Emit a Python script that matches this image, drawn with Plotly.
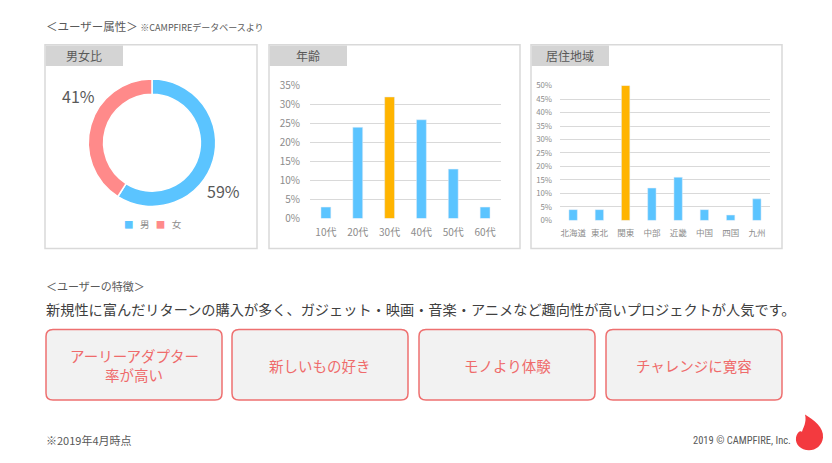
import plotly.graph_objects as go

W, H = 832, 463

# ---- data ----
gender_labels = ["男", "女"]
gender_values = [59, 41]

age_labels = ["10代", "20代", "30代", "40代", "50代", "60代"]
age_values = [3, 24, 32, 26, 13, 3]
age_ticks = [0, 5, 10, 15, 20, 25, 30, 35]

region_labels = ["北海道", "東北", "関東", "中部", "近畿", "中国", "四国", "九州"]
region_values = [4, 4, 50, 12, 16, 4, 2, 8]
region_ticks = [0, 5, 10, 15, 20, 25, 30, 35, 40, 45, 50]

features = [["アーリーアダプター", "率が高い"], ["新しいもの好き"], ["モノより体験"], ["チャレンジに寛容"]]

# ---- style ----
FONT = "Noto Sans CJK JP"
BLUE = "#5BC4FF"
PINK = "#FF8A8A"
ORANGE = "#FFB400"
GRID = "#D9D9D9"
TXT = "#595959"
TICK = "#8C8C8C"
RED_TXT = "#EF6B6B"
RED_LINE = "#EE7070"


def px(x):
    return x / W


def py(y):
    return 1 - y / H


def rrect_path(x0, y0, x1, y1, r):
    pts = [
        f"M {px(x0 + r)} {py(y0)}",
        f"L {px(x1 - r)} {py(y0)}",
        f"Q {px(x1)} {py(y0)} {px(x1)} {py(y0 + r)}",
        f"L {px(x1)} {py(y1 - r)}",
        f"Q {px(x1)} {py(y1)} {px(x1 - r)} {py(y1)}",
        f"L {px(x0 + r)} {py(y1)}",
        f"Q {px(x0)} {py(y1)} {px(x0)} {py(y1 - r)}",
        f"L {px(x0)} {py(y0 + r)}",
        f"Q {px(x0)} {py(y0)} {px(x0 + r)} {py(y0)}",
        "Z",
    ]
    return " ".join(pts)


def note(text, x, y, size, color=TXT, xanchor="center", family=FONT):
    return dict(text=text, x=px(x), y=py(y), xref="paper", yref="paper", showarrow=False,
                xanchor=xanchor, yanchor="middle", font=dict(family=family, size=size, color=color))


fig = go.Figure()

# donut
cx, cy, R = 152, 138.5, 66
fig.add_trace(go.Pie(
    labels=gender_labels, values=gender_values, hole=0.76, sort=False,
    direction="clockwise", rotation=0, textinfo="none", showlegend=False,
    marker=dict(colors=[BLUE, PINK], line=dict(color="white", width=1.5)),
    domain=dict(x=[px(cx - R), px(cx + R)], y=[py(cy + R), py(cy - R)]),
))

# age bars
fig.add_trace(go.Bar(
    x=age_labels, y=age_values, xaxis="x", yaxis="y", width=0.31,
    marker=dict(color=[ORANGE if v == max(age_values) else BLUE for v in age_values]),
    showlegend=False,
))

# region bars
fig.add_trace(go.Bar(
    x=region_labels, y=region_values, xaxis="x2", yaxis="y2", width=0.32,
    marker=dict(color=[ORANGE if v == max(region_values) else BLUE for v in region_values]),
    showlegend=False,
))

shapes = []
annotations = []

# panels
panels = [(45, 37, 257, 248, "男女比"), (269, 37, 520, 248, "年齢"), (531, 37, 782, 248, "居住地域")]
for x0, y0, x1, y1, title in panels:
    shapes.append(dict(type="rect", xref="paper", yref="paper", x0=px(x0), x1=px(x1), y0=py(y1), y1=py(y0),
                       line=dict(color=GRID, width=1.5), fillcolor="rgba(0,0,0,0)", layer="below"))
    shapes.append(dict(type="rect", xref="paper", yref="paper", x0=px(x0 + 0.7), x1=px(x0 + 78), y0=py(59), y1=py(y0 + 0.7),
                       line=dict(width=0), fillcolor="#D4D4D4", layer="below"))
    annotations.append(note(title, x0 + 39, 48.5, 12))

# donut labels
annotations.append(note(f"{gender_values[1]}%", 78, 90, 16))
annotations.append(note(f"{gender_values[0]}%", 223, 188, 16))
annotations.append(note(
    f"<span style='color:{BLUE}'>■</span>   {gender_labels[0]}   <span style='color:{PINK}'>■</span>   {gender_labels[1]}",
    153, 223, 9.5, TICK))

# feature boxes
boxes = [(46, 222), (232, 408), (419, 595), (606, 782)]
LINE_H = 20
for (x0, x1), lines in zip(boxes, features):
    shapes.append(dict(type="path", xref="paper", yref="paper", path=rrect_path(x0, 332, x1, 405, 7),
                       line=dict(color=RED_LINE, width=1.5), fillcolor="#F2F2F2"))
    start = 369 - (len(lines) - 1) * LINE_H / 2
    for i, ln in enumerate(lines):
        annotations.append(note(ln, (x0 + x1) / 2, start + i * LINE_H, 14.5, RED_TXT))

# texts
annotations += [
    note("＜ユーザー属性＞ <span style='font-size:9px'>※CAMPFIREデータベースより</span>", 44, 18, 11.5, xanchor="left"),
    note("＜ユーザーの特徴＞", 44, 287, 11, xanchor="left"),
    note("新規性に富んだリターンの購入が多く、ガジェット・映画・音楽・アニメなど趣向性が高いプロジェクトが人気です。",
         44, 311, 14.2, "#404040", xanchor="left"),
    note("※2019年4月時点", 44, 446, 11, xanchor="left"),
    note("2019 © CAMPFIRE, Inc.", 793, 447, 10.5, xanchor="right",
         family="Roboto Condensed, Liberation Sans Narrow, Roboto"),
]

# flame logo
flame = (f"M {px(805)} {py(420)} "
         f"C {px(814)} {py(426)} {px(824)} {py(433)} {px(823)} {py(444)} "
         f"C {px(822)} {py(452)} {px(816)} {py(457)} {px(809)} {py(457)} "
         f"C {px(801)} {py(457)} {px(795)} {py(451)} {px(796)} {py(444)} "
         f"C {px(797)} {py(439)} {px(800)} {py(436)} {px(802)} {py(438)} "
         f"C {px(803)} {py(434)} {px(807)} {py(428)} {px(805)} {py(420)} Z")
shapes.append(dict(type="path", xref="paper", yref="paper", path=flame, line=dict(width=0), fillcolor="#F33A3F"))

axis_common = dict(showgrid=False, zeroline=False, showline=False, fixedrange=True)

fig.update_layout(
    width=W, height=H, margin=dict(l=0, r=0, t=0, b=0),
    paper_bgcolor="white", plot_bgcolor="white",
    font=dict(family=FONT, color=TXT),
    shapes=shapes, annotations=annotations,
    xaxis=dict(domain=[px(310), px(501)], anchor="y", range=[-0.5, 5.5], type="category",
               tickfont=dict(family=FONT, size=10, color=TICK), ticks="", ticklabelstandoff=6,
               **axis_common),
    yaxis=dict(domain=[py(217), py(79.3)], anchor="x", range=[0, 35],
               tickmode="array", tickvals=age_ticks, ticktext=[f"{t}%" for t in age_ticks],
               showgrid=True, gridcolor=GRID, gridwidth=1, zeroline=False, showline=False,
               tickfont=dict(family=FONT, size=10, color=TICK), ticklabelstandoff=9),
    xaxis2=dict(domain=[px(560), px(770)], anchor="y2", range=[-0.5, 7.5], type="category",
                tickfont=dict(family=FONT, size=8.5, color=TICK), ticks="", ticklabelstandoff=6,
                **axis_common),
    yaxis2=dict(domain=[py(219), py(79.3)], anchor="x2", range=[0, 50],
                tickmode="array", tickvals=region_ticks, ticktext=[f"{t}%" for t in region_ticks],
                showgrid=True, gridcolor=GRID, gridwidth=1, zeroline=False, showline=False,
                tickfont=dict(family=FONT, size=7.8, color=TICK), ticklabelstandoff=7),
)

fig.write_html("out.html", config={"displayModeBar": False},
               post_script="document.body.style.margin='0';document.body.style.overflow='hidden';")
